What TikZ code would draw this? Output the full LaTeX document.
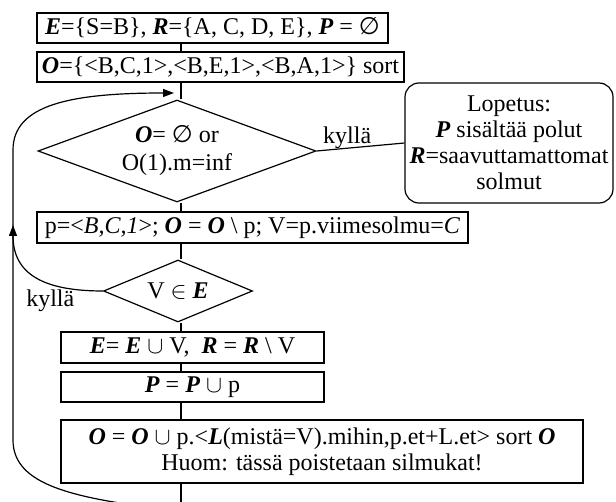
\documentclass[tikz,border=0pt]{standalone}
\usepackage{fontspec}
\setmainfont{Liberation Serif}
\newfontfamily\symfont{DejaVu Sans}
\usetikzlibrary{shapes.geometric,arrows.meta}
\newcommand{\vek}[1]{\textbf{\textit{#1}}}
\newcommand{\tyhja}{{\symfont ∅}}

\begin{document}
\begin{tikzpicture}[x=0.5pt,y=-0.5pt,line width=0.6pt,
	every node/.style={font=\fontsize{12}{13}\selectfont},
	box/.style={draw,inner sep=0pt,minimum height=15pt,align=center},
	choice/.style={draw,diamond,aspect=2.7,inner sep=0pt,align=center},
	endbox/.style={draw,rounded corners=7pt,inner sep=0pt,align=center},
	nuoli/.style={-{Triangle[length=5.5pt,width=4pt]}}]
			%%%%% START %%%%%
			
			\useasboundingbox (0,0) rectangle (616,502);
			\coordinate (spine) at (181,0);
			
			\node[box,minimum width=175.5pt] (alku) at (212.5,28) {\vek{E}=\{S=B\}, \vek{R}=\{A, C, D, E\}, \vek{P} = \tyhja};
			\node[box,minimum width=183.5pt] (jono) at (220.5,67) {\vek{O}=\{<B,C,1>,<B,E,1>,<B,A,1>\} sort};
			
			\node[choice,minimum width=139pt,minimum height=51pt,font=\fontsize{12}{14}\selectfont] (loppu) at (177,151) {\vek{O}= \tyhja{} or\\O(1).m=inf};
			\node[endbox,minimum width=104pt,minimum height=60pt] (lopetus) at (509,143) {Lopetus:\\\vek{P} sisältää polut\\\vek{R}=saavuttamattomat\\solmut};
			
			\node[box,minimum width=215.5pt,minimum height=15.5pt] (poimi) at (252.5,227.5) {p=<\textit{B,C,1}>; \vek{O} = \vek{O} \textbackslash{} p; V=p.viimesolmu=\textit{C}};
			\node[choice,minimum width=74.5pt,minimum height=31pt] (kaytu) at (178,291) {V $\in$ \vek{E}};
			
			\node[box,minimum width=131.5pt,minimum height=15.5pt] (siirto) at (192.5,347.5) {\vek{E}= \vek{E} $\cup$ V,\ \ \vek{R} = \vek{R} \textbackslash{} V};
			\node[box,minimum width=131.5pt] (polku) at (192.5,387) {\vek{P} = \vek{P} $\cup$ p};
			\node[box,minimum width=261pt,minimum height=31.5pt] (laajenna) at (322,451.5) {\vek{O} = \vek{O} $\cup$ p.<\vek{L}(mistä=V).mihin,p.et+L.et> sort \vek{O}\\Huom: tässä poistetaan silmukat!};
			
			% suora kulku
			\draw (alku.south -| spine) -- (jono.north -| spine);
			\draw (jono.south -| spine) -- (loppu.north -| spine);
			\draw (loppu.east) -- node[pos=0,anchor=south west,inner sep=1pt,xshift=2pt] (kylla1) {kyllä} (lopetus.west);
			\draw (loppu.south -| spine) -- (poimi.north -| spine);
			\draw (poimi.south -| spine) -- (kaytu.north -| spine);
			\draw (kaytu.south -| spine) -- (siirto.north -| spine);
			\draw (siirto.south -| spine) -- (polku.north -| spine);
			\draw (polku.south -| spine) -- (laajenna.north -| spine);
			
			% silmukka takaisin
			\coordinate (alas) at (181,506);
			\coordinate (pohja) at (140,506);
			\coordinate (ala) at (13,440);
			\coordinate (yla) at (13,150);
			\coordinate (paluu) at (181,93);
			\coordinate (nousu) at (13,225);
			\draw (laajenna.south -| spine) -- (alas);
			\draw[nuoli,shorten >=3.5pt] (pohja) .. controls (60,495) and (13,480) .. (ala) -- (yla) .. controls (13,105) and (70,93) .. (paluu);
			\draw[nuoli] (kaytu.west) .. controls (45,291) and (13,275) .. (nousu);
			\node[anchor=north east,inner sep=1pt] (kylla2) at ([xshift=-13pt,yshift=2pt]kaytu.west) {kyllä};
			
			%%%%% END %%%%%
\end{tikzpicture}
\end{document}
